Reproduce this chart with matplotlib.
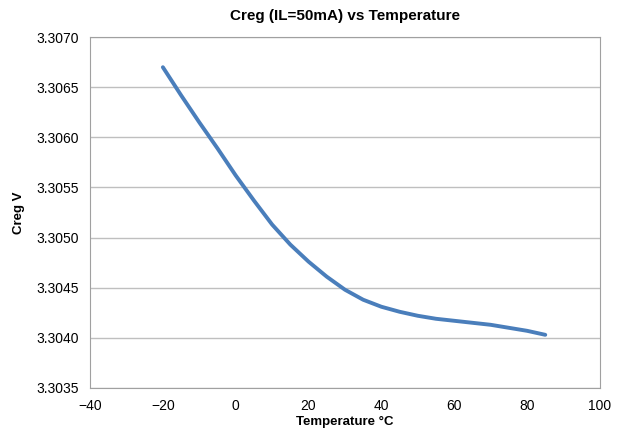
import matplotlib
matplotlib.use("Agg")
import matplotlib.pyplot as plt

plt.rcParams['font.family'] = ['Liberation Sans', 'DejaVu Sans']

temps = [-20, -15, -10, -5, 0, 5, 10, 15, 20, 25, 30, 35, 40, 45, 50, 55, 60, 65, 70, 75, 80, 85]
creg = [3.30670, 3.30642, 3.30615, 3.30589, 3.30562, 3.30537, 3.30513, 3.30493, 3.30476,
        3.30461, 3.30448, 3.30438, 3.30431, 3.30426, 3.30422, 3.30419, 3.30417, 3.30415,
        3.30413, 3.30410, 3.30407, 3.30403]
xticks = [-40, -20, 0, 20, 40, 60, 80, 100]
yticks = [3.3035, 3.3040, 3.3045, 3.3050, 3.3055, 3.3060, 3.3065, 3.3070]

fig = plt.figure(figsize=(6.21, 4.32), dpi=100)
ax = fig.add_axes([0.145, 0.102, 0.821, 0.812])
ax.plot(temps, creg, color='#4a7ebb', lw=2.8, solid_capstyle='round', solid_joinstyle='round')
ax.set_xlim(-40, 100)
ax.set_ylim(3.3035, 3.3070)
ax.set_xticks(xticks)
ax.set_yticks(yticks)
ax.set_yticklabels([f"{v:.4f}" for v in yticks])
ax.grid(axis='y', color='#bfbfbf', lw=1)
ax.set_axisbelow(True)
for s in ax.spines.values():
    s.set_color('#a0a0a0')
    s.set_linewidth(0.8)
ax.tick_params(length=0, labelsize=10, pad=8)
ax.set_title('Creg (IL=50mA) vs Temperature', fontsize=11, fontweight='bold', pad=12)
ax.set_xlabel('Temperature \u00b0C', fontsize=9.5, fontweight='bold', labelpad=2)
ax.set_ylabel('Creg V', fontsize=9.5, fontweight='bold', labelpad=8)
fig.savefig('out.png', dpi=100)
